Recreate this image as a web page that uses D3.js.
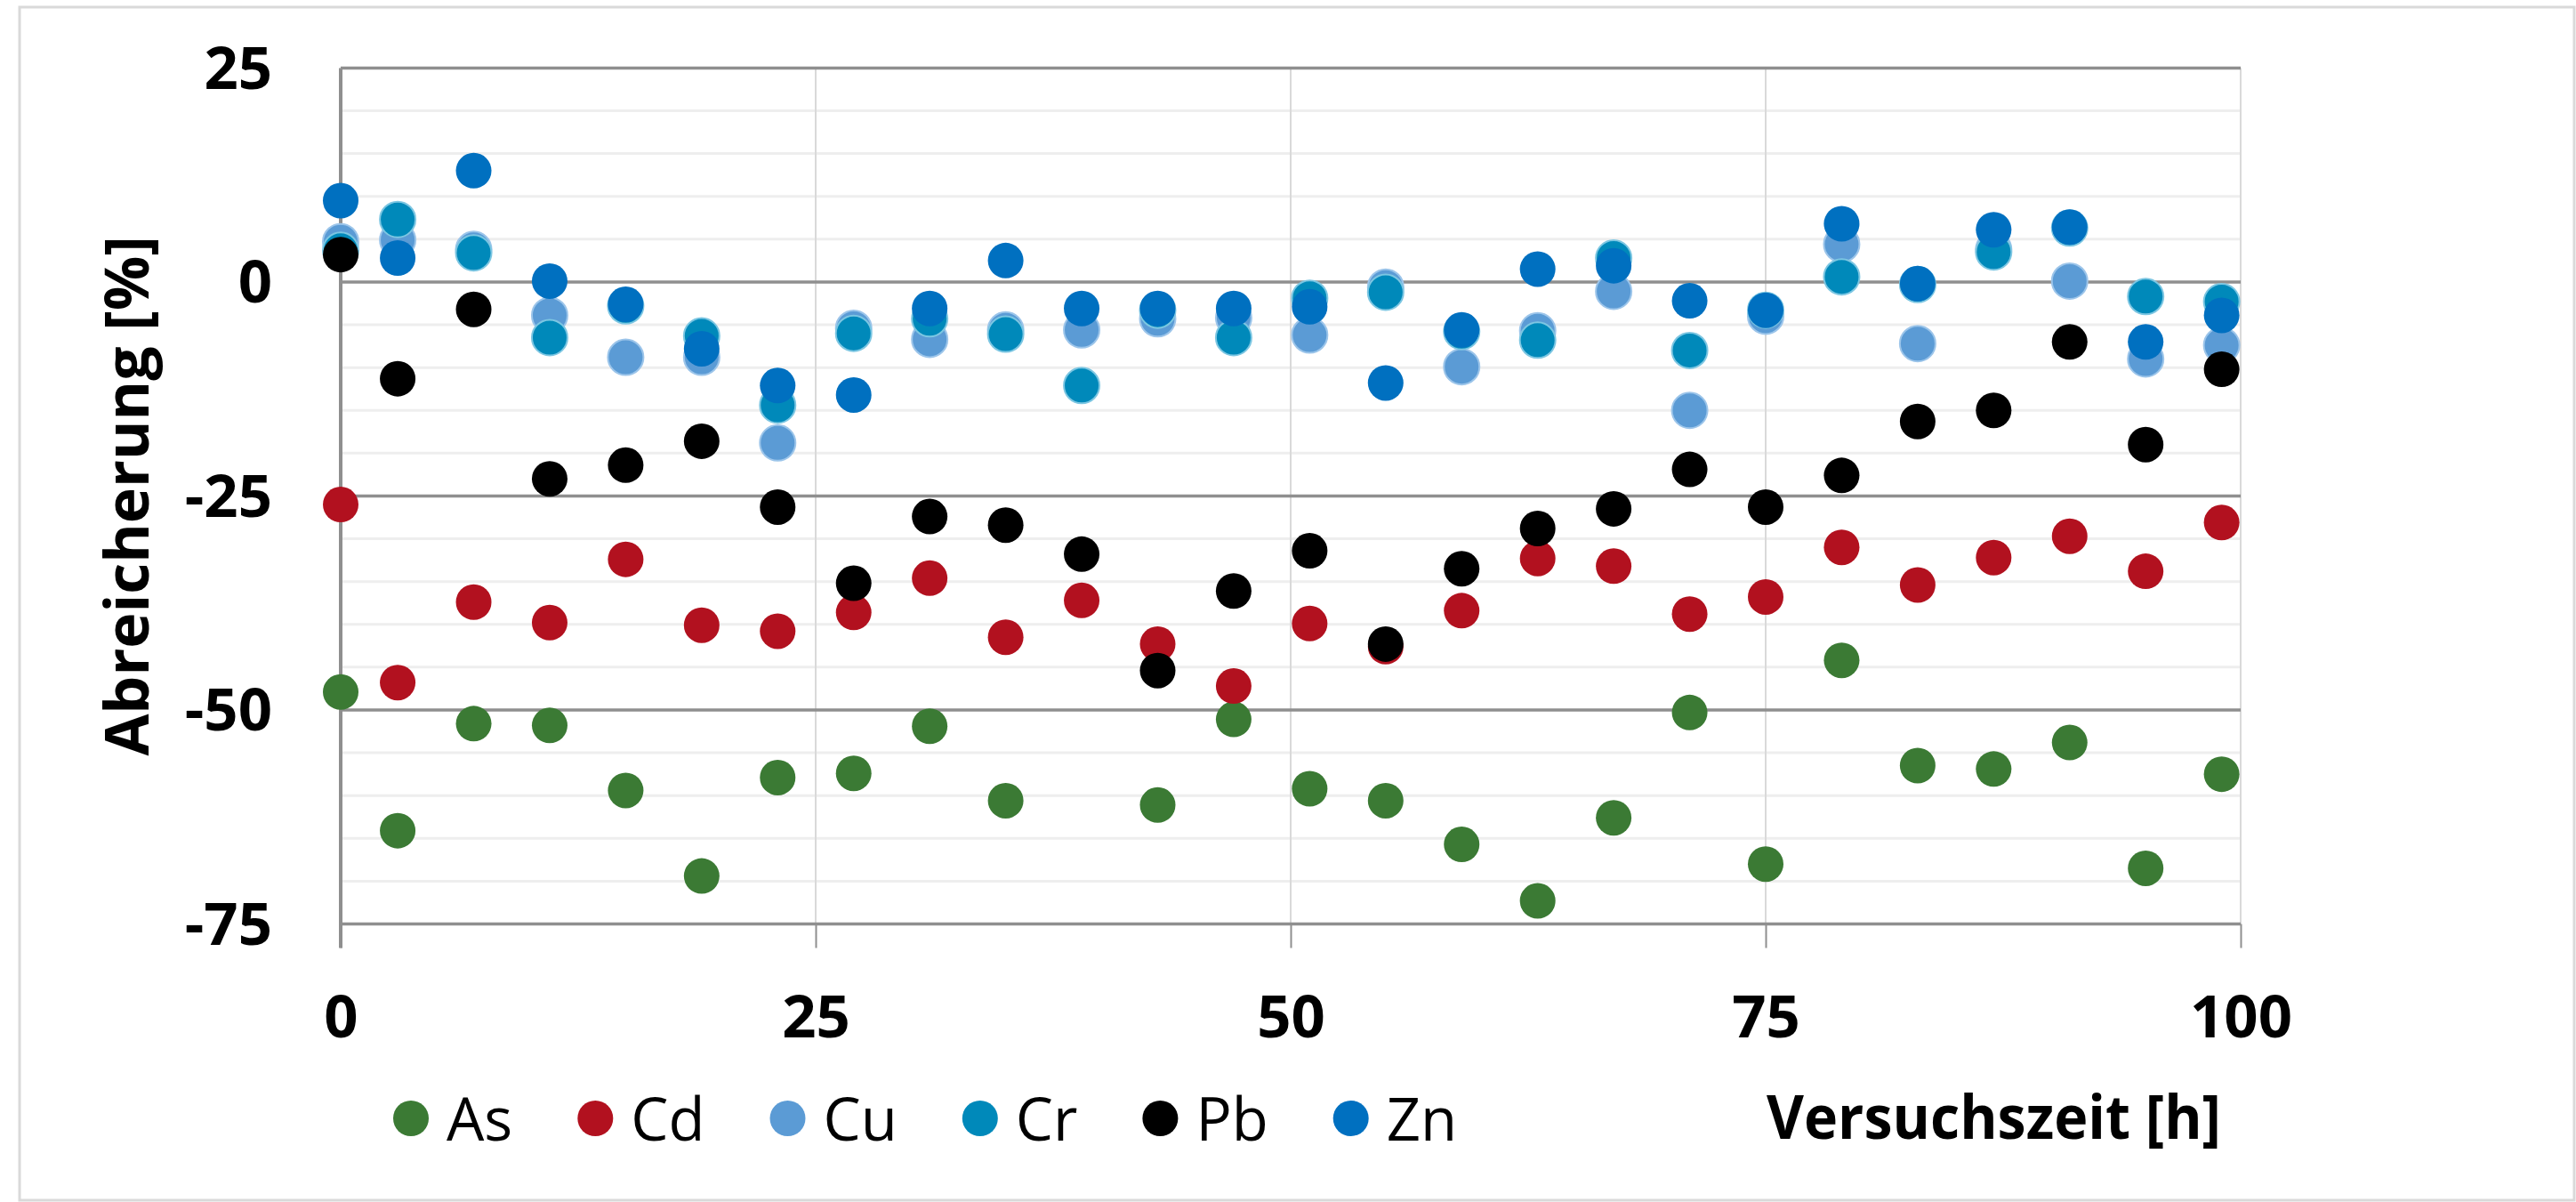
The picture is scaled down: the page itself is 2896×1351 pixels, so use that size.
<!DOCTYPE html>
<html>
<head>
<meta charset="utf-8">
<script src="https://cdn.jsdelivr.net/npm/d3@7"></script>
<style>
  html, body { margin: 0; padding: 0; background: #ffffff; }
  svg { display: block; }
  text { font-family: "Open Sans", "Noto Sans", sans-serif; fill: #000; }
</style>
</head>
<body>
<svg id="chart" width="2896" height="1351"></svg>
<script>
// ---- data ----
const times = [0, 3, 7, 11, 15, 19, 23, 27, 31, 35, 39, 43, 47, 51, 55, 59, 63, 67, 71, 75, 79, 83, 87, 91, 95, 99];
const seriesNames = ["As", "Cd", "Cu", "Cr", "Pb", "Zn"];
const As = [-47.9, -64.1, -51.6, -51.8, -59.4, -69.4, -57.9, -57.4, -51.9, -60.6, null, -61.1, -51.1, -59.2, -60.6, -65.7, -72.3, -62.6, -50.3, -68.0, -44.2, -56.5, -56.9, -53.8, -68.5, -57.5];
const Cd = [-26.0, -46.8, -37.4, -39.8, -32.4, -40.1, -40.8, -38.6, -34.6, -41.5, -37.2, -42.3, -47.2, -39.9, -42.6, -38.4, -32.3, -33.2, -38.8, -36.8, -31.0, -35.4, -32.2, -29.7, -33.8, -28.1];
const Cu = [4.7, 4.9, 3.8, -3.9, -8.8, -8.8, -18.8, -5.4, -6.7, -5.6, -5.6, -4.3, -4.2, -6.2, -0.6, -9.9, -5.7, -1.1, -15.0, -4.0, 4.4, -7.2, 3.8, 0.1, -9.0, -7.4];
const Cr = [3.7, 7.3, 3.4, -6.5, -2.8, -6.3, -14.4, -6.0, -4.3, -6.1, -12.1, -3.3, -6.5, -1.9, -1.2, -5.8, -6.8, 2.8, -8.0, -3.3, 0.6, -0.3, 3.5, 6.3, -1.7, -2.3];
const Pb = [3.2, -11.3, -3.2, -23.0, -21.4, -18.6, -26.3, -35.2, -27.4, -28.4, -31.8, -45.4, -36.1, -31.4, -42.3, -33.5, -28.8, -26.5, -21.9, -26.3, -22.6, -16.3, -15.0, -7.0, -19.0, -10.2];
const Zn = [9.5, 2.8, 13.0, 0.1, -2.6, -7.8, -12.1, -13.2, -3.1, 2.5, -3.1, -3.1, -3.1, -2.9, -11.8, -5.6, 1.5, 1.9, -2.2, -3.3, 6.8, -0.2, 6.1, 6.4, -7.0, -3.9];
const xTicks = [0, 25, 50, 75, 100];
const yTicks = [25, 0, -25, -50, -75];
const xTitle = "Versuchszeit [h]";
const yTitle = "Abreicherung [%]";

// ---- styles ----
const colors = { As: "#3B7A34", Cd: "#B2111F", Cu: "#5B9BD5", Cr: "#0089BA", Pb: "#000000", Zn: "#0070C0" };
const halo = { As: "none", Cd: "none", Cu: "#9cc5ea", Cr: "#7cc6e2", Pb: "none", Zn: "none" };
const values = { As, Cd, Cu, Cr, Pb, Zn };
const fmt = d => String(d); // plain hyphen-minus like the reference

const svg = d3.select("#chart");
const L = 383, R = 2519, T = 76.4, B = 1038.5;
const x = d3.scaleLinear().domain([0, 100]).range([L, R]);
const y = d3.scaleLinear().domain([-75, 25]).range([B, T]);
const rMark = 20;

// outer chart border
svg.append("rect").attr("x", 22).attr("y", 8).attr("width", 2872).attr("height", 1341)
  .attr("fill", "#fff").attr("stroke", "#d9d9d9").attr("stroke-width", 3);

// minor horizontal gridlines every 5
const minor = d3.range(-75, 26, 5).filter(v => v % 25 !== 0);
svg.append("g").selectAll("line").data(minor).join("line")
  .attr("x1", L).attr("x2", R).attr("y1", d => y(d)).attr("y2", d => y(d))
  .attr("stroke", "#eeeeee").attr("stroke-width", 3);

// vertical gridlines
svg.append("g").selectAll("line").data(xTicks.filter(v => v > 0)).join("line")
  .attr("x1", d => x(d)).attr("x2", d => x(d)).attr("y1", T).attr("y2", B)
  .attr("stroke", "#d9d9d9").attr("stroke-width", 2);

// major horizontal gridlines
svg.append("g").selectAll("line").data(yTicks).join("line")
  .attr("x1", L).attr("x2", R).attr("y1", d => y(d)).attr("y2", d => y(d))
  .attr("stroke", "#8f8f8f").attr("stroke-width", 3.5);

// x axis (ticks + labels)
const gx = svg.append("g").attr("transform", `translate(0,${B})`)
  .call(d3.axisBottom(x).tickValues(xTicks).tickSize(27).tickSizeOuter(0).tickFormat(fmt));
gx.select(".domain").remove();
gx.selectAll(".tick line").attr("stroke", "#8f8f8f").attr("stroke-width", 2);
gx.selectAll(".tick text").attr("y", 127).attr("dy", null)
  .style("font-family", '"Open Sans", sans-serif').style("font-size", "67px").style("font-weight", 700).attr("fill", "#000");

// y axis line
svg.append("line").attr("x1", L).attr("x2", L).attr("y1", T).attr("y2", B + 27)
  .attr("stroke", "#8f8f8f").attr("stroke-width", 4);

// y axis labels
const gy = svg.append("g").attr("transform", `translate(${L},0)`)
  .call(d3.axisLeft(y).tickValues(yTicks).tickSize(0).tickPadding(77).tickFormat(fmt));
gy.select(".domain").remove();
gy.selectAll(".tick text").attr("dy", "23px")
  .style("font-family", '"Open Sans", sans-serif').style("font-size", "67px").style("font-weight", 700).attr("fill", "#000");

// points
seriesNames.forEach(name => {
  const pts = times.map((t, i) => ({ t, v: values[name][i] })).filter(d => d.v !== null);
  svg.append("g").selectAll("circle").data(pts).join("circle")
    .attr("cx", d => x(d.t)).attr("cy", d => y(d.v)).attr("r", rMark)
    .attr("fill", colors[name])
    .attr("stroke", halo[name]).attr("stroke-width", halo[name] === "none" ? 0 : 2);
});

// y title
svg.append("text").attr("transform", `translate(167,${(T + B) / 2}) rotate(-90)`)
  .attr("text-anchor", "middle").style("font-size", "68px").style("font-weight", 700).text(yTitle);

// x title
svg.append("text").attr("x", 1986).attr("y", 1280)
  .attr("textLength", 511).attr("lengthAdjust", "spacingAndGlyphs")
  .style("font-size", "68px").style("font-weight", 700).text(xTitle);

// legend
const lg = svg.append("g");
let cx = 462;
seriesNames.forEach(name => {
  lg.append("circle").attr("cx", cx).attr("cy", 1257).attr("r", rMark).attr("fill", colors[name]);
  const t = lg.append("text").attr("x", cx + 40).attr("y", 1282)
    .style("font-size", "67px").style("font-weight", 400).text(name);
  cx = cx + 40 + t.node().getComputedTextLength() + 93;
});
</script>
</body>
</html>
